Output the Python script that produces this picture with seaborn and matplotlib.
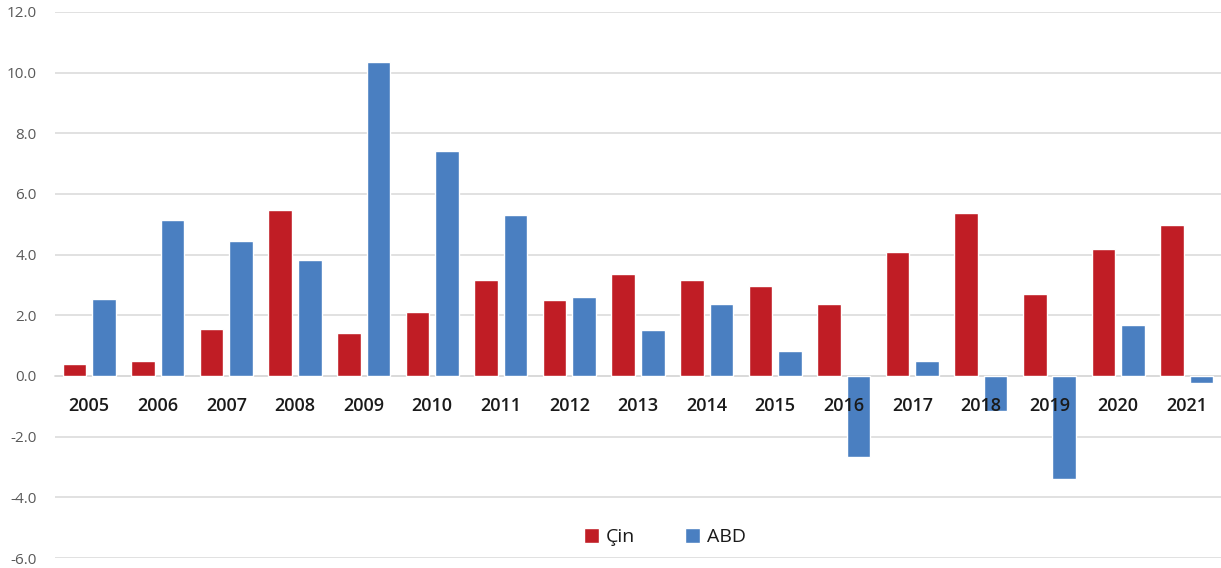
import pandas as pd
import numpy as np
import seaborn as sns
import matplotlib.pyplot as plt
from matplotlib.ticker import FuncFormatter, MultipleLocator

years = [str(y) for y in range(2005, 2022)]
cin = [0.38, 0.51, 1.56, 5.46, 1.43, 2.10, 3.15, 2.50, 3.36, 3.18, 2.96,
       2.38, 4.08, 5.36, 2.69, 4.19, 4.98]
abd = [2.54, 5.13, 4.46, 3.81, 10.36, 7.42, 5.30, 2.60, 1.50, 2.38, 0.82,
       -2.67, 0.50, -1.17, -3.38, 1.68, -0.23]
series = ["Çin", "ABD"]
colors = {"Çin": "#C01D25", "ABD": "#4A7FC1"}

df = pd.DataFrame({
    "year": years * 2,
    "value": cin + abd,
    "country": ["Çin"] * len(years) + ["ABD"] * len(years),
})

sns.set_theme(style="white")
plt.rcParams["font.family"] = ["Open Sans", "DejaVu Sans"]
plt.rcParams["axes.unicode_minus"] = False

fig = plt.figure(figsize=(12.21, 5.68), dpi=100)
ax = fig.add_axes([0.045, 0.0176, 0.955, 0.9613])

sns.barplot(data=df, x="year", y="value", hue="country", hue_order=series,
            palette=colors, width=0.86, gap=0.2, saturation=1,
            order=years, ax=ax, zorder=2)

ax.set_ylim(-6, 12)
ax.set_xlim(-0.5, len(years) - 0.5)
ax.yaxis.set_major_locator(MultipleLocator(2))
ax.yaxis.set_major_formatter(FuncFormatter(lambda v, p: f"{v:.1f}"))
ax.grid(axis="y", color="#D9D9D9", linewidth=1.1)
ax.set_axisbelow(True)
# year labels sit on top of the bars
ax.xaxis.set_zorder(3)

for s in ["top", "right", "left"]:
    ax.spines[s].set_visible(False)
ax.spines["bottom"].set_position(("data", 0))
ax.spines["bottom"].set_color("#D9D9D9")
ax.spines["bottom"].set_linewidth(1.1)
ax.spines["bottom"].set_zorder(1)

ax.tick_params(axis="x", length=0, pad=15, labelsize=13, labelcolor="#1a1a1a")
ax.tick_params(axis="y", length=0, pad=13, labelsize=11, labelcolor="#595959")
for lbl in ax.get_xticklabels():
    lbl.set_fontweight("semibold")
ax.set_xlabel("")
ax.set_ylabel("")

ax.legend(loc="center", bbox_to_anchor=(0.523, 0.038), ncol=2, frameon=False,
          handlelength=0.75, handleheight=0.75, columnspacing=2.6,
          handletextpad=0.35, fontsize=14, labelcolor="#1a1a1a")

plt.savefig("out.png", dpi=100)
